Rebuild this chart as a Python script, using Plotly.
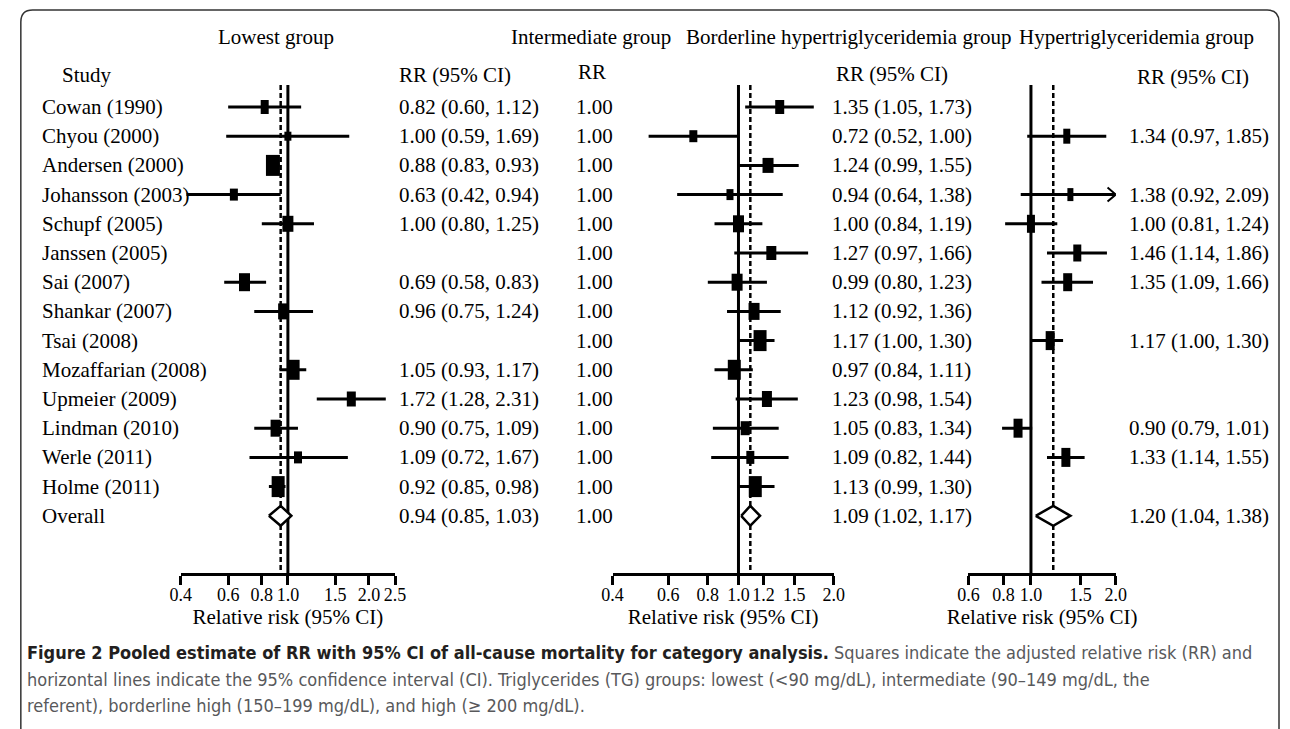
import math
import plotly.graph_objects as go

W, H = 1290, 729

# ---------------- data ----------------
studies = ["Cowan (1990)", "Chyou (2000)", "Andersen (2000)", "Johansson (2003)", "Schupf (2005)",
           "Janssen (2005)", "Sai (2007)", "Shankar (2007)", "Tsai (2008)", "Mozaffarian (2008)",
           "Upmeier (2009)", "Lindman (2010)", "Werle (2011)", "Holme (2011)"]

lowest_rr = [0.82, 1.00, 0.88, 0.63, 1.00, None, 0.69, 0.96, None, 1.05, 1.72, 0.90, 1.09, 0.92]
lowest_lo = [0.60, 0.59, 0.83, 0.42, 0.80, None, 0.58, 0.75, None, 0.93, 1.28, 0.75, 0.72, 0.85]
lowest_hi = [1.12, 1.69, 0.93, 0.94, 1.25, None, 0.83, 1.24, None, 1.17, 2.31, 1.09, 1.67, 0.98]
lowest_overall = [0.94, 0.85, 1.03]

intermediate_rr = [1.00] * 14
intermediate_overall = 1.00

border_rr = [1.35, 0.72, 1.24, 0.94, 1.00, 1.27, 0.99, 1.12, 1.17, 0.97, 1.23, 1.05, 1.09, 1.13]
border_lo = [1.05, 0.52, 0.99, 0.64, 0.84, 0.97, 0.80, 0.92, 1.00, 0.84, 0.98, 0.83, 0.82, 0.99]
border_hi = [1.73, 1.00, 1.55, 1.38, 1.19, 1.66, 1.23, 1.36, 1.30, 1.11, 1.54, 1.34, 1.44, 1.30]
border_overall = [1.09, 1.02, 1.17]

hyper_rr = [None, 1.34, None, 1.38, 1.00, 1.46, 1.35, None, 1.17, None, None, 0.90, 1.33, None]
hyper_lo = [None, 0.97, None, 0.92, 0.81, 1.14, 1.09, None, 1.00, None, None, 0.79, 1.14, None]
hyper_hi = [None, 1.85, None, 2.09, 1.24, 1.86, 1.66, None, 1.30, None, None, 1.01, 1.55, None]
hyper_overall = [1.20, 1.04, 1.38]

# study weight boxes (drawn height / width in px)
lowest_box_h = [14, 9, 21, 12, 16, None, 18, 16, None, 20, 15, 17, 12, 21]
lowest_box_w = [8, 7, 14, 8, 11, None, 11, 10, None, 12, 9, 10, 8, 13]
border_box_h = [14, 12, 15, 11, 17, 14, 17, 17, 21, 20, 16, 14, 13, 21]
border_box_w = [9, 8, 11, 7, 11, 10, 11, 11, 13, 13, 10, 9, 8, 13]
hyper_box_h = [None, 15, None, 13, 18, 17, 18, None, 19, None, None, 19, 19, None]
hyper_box_w = [None, 7, None, 6, 8, 8, 9, None, 9, None, None, 9, 9, None]

lowest_ticks = [0.4, 0.6, 0.8, 1.0, 1.5, 2.0, 2.5]
border_ticks = [0.4, 0.6, 0.8, 1.0, 1.2, 1.5, 2.0]
hyper_ticks = [0.6, 0.8, 1.0, 1.5, 2.0]

headers = ["Lowest group", "Intermediate group", "Borderline hypertriglyceridemia group",
           "Hypertriglyceridemia group"]
axis_title = "Relative risk (95% CI)"
caption_bold = "Figure 2 Pooled estimate of RR with 95% CI of all-cause mortality for category analysis."
caption_lines = [
    " Squares indicate the adjusted relative risk (RR) and",
    "horizontal lines indicate the 95% confidence interval (CI). Triglycerides (TG) groups: lowest (<90 mg/dL), intermediate (90–149 mg/dL, the",
    "referent), borderline high (150–199 mg/dL), and high (≥ 200 mg/dL).",
]

# ---------------- layout helpers ----------------
def X(px):
    return px / W

def Y(py):
    return 1 - py / H

SERIF = "Liberation Serif, Times New Roman, serif"
FS = 21
n = len(studies)
overall_row = n
row0_px, row_step = 107, 29.2
axis_px, top_px = 573, 85
y_max = (axis_px - row0_px) / row_step
y_min = (top_px - row0_px) / row_step

fig = go.Figure()

panels = [
    dict(ax="x", rr=lowest_rr, lo=lowest_lo, hi=lowest_hi, ov=lowest_overall,
         bh=lowest_box_h, bw=lowest_box_w, ticks=lowest_ticks, dom=(172.7, 390.7)),
    dict(ax="x2", rr=border_rr, lo=border_lo, hi=border_hi, ov=border_overall,
         bh=border_box_h, bw=border_box_w, ticks=border_ticks, dom=(612, 837)),
    dict(ax="x3", rr=hyper_rr, lo=hyper_lo, hi=hyper_hi, ov=hyper_overall,
         bh=hyper_box_h, bw=hyper_box_w, ticks=hyper_ticks, dom=(974, 1124)),
]

for p in panels:
    ax = p["ax"]
    xmin, xmax = min(p["ticks"]), max(p["ticks"])
    # reference line at 1 and dashed line at pooled estimate
    fig.add_trace(go.Scatter(x=[1.0, 1.0], y=[y_min, y_max], mode="lines", xaxis=ax, yaxis="y",
                             line=dict(color="black", width=3), hoverinfo="skip", showlegend=False))
    fig.add_trace(go.Scatter(x=[p["ov"][0], p["ov"][0]], y=[y_min, y_max], mode="lines", xaxis=ax, yaxis="y",
                             line=dict(color="black", width=2.5, dash="5px,3px"), hoverinfo="skip", showlegend=False))
    # CI lines
    xs, ys = [], []
    arrows_x, arrows_y = [], []
    for i in range(n):
        if p["rr"][i] is None:
            continue
        hi = min(p["hi"][i], xmax)
        xs += [max(p["lo"][i], xmin), hi, None]
        ys += [i, i, None]
        if p["hi"][i] > xmax:
            arrows_x += [xmax / 1.07, xmax, xmax / 1.07, None]
            arrows_y += [i - 0.24, i, i + 0.24, None]
    fig.add_trace(go.Scatter(x=xs, y=ys, mode="lines", xaxis=ax, yaxis="y", cliponaxis=False,
                             line=dict(color="black", width=3), hoverinfo="skip", showlegend=False))
    if arrows_x:
        fig.add_trace(go.Scatter(x=arrows_x, y=arrows_y, mode="lines", xaxis=ax, yaxis="y", cliponaxis=False,
                                 line=dict(color="black", width=2), hoverinfo="skip", showlegend=False))
    # weight boxes
    mx, my, ms, mw = [], [], [], []
    for i in range(n):
        if p["rr"][i] is None:
            continue
        mx.append(p["rr"][i]); my.append(i)
        ms.append(p["bh"][i] / 1.4); mw.append(p["bw"][i])
    fig.add_trace(go.Scatter(x=mx, y=my, mode="markers", xaxis=ax, yaxis="y", cliponaxis=False,
                             marker=dict(symbol="line-ns", size=ms, color="black", opacity=1,
                                         line=dict(color="black", width=mw)),
                             hoverinfo="skip", showlegend=False))
    # pooled diamond
    est, lo, hi = p["ov"]
    fig.add_trace(go.Scatter(x=[lo, est, hi, est, lo], y=[overall_row, overall_row - 0.34, overall_row,
                                                         overall_row + 0.34, overall_row],
                             mode="lines", fill="toself", fillcolor="white", xaxis=ax, yaxis="y",
                             cliponaxis=False, line=dict(color="black", width=2.5),
                             hoverinfo="skip", showlegend=False))

axis_common = dict(type="log", showline=True, linecolor="black", linewidth=2.7, ticks="outside",
                   ticklen=9, tickwidth=2.5, tickcolor="black", showgrid=False, zeroline=False,
                   anchor="y", tickangle=0, ticklabelstandoff=-5,
                   tickfont=dict(family=SERIF, size=18, color="black"),
                   title=dict(text=axis_title, font=dict(family=SERIF, size=FS, color="black"), standoff=1),
                   fixedrange=True)
for p in panels:
    key = "xaxis" if p["ax"] == "x" else "xaxis" + p["ax"][1:]
    t = p["ticks"]
    fig.layout[key] = dict(axis_common, domain=[X(p["dom"][0]), X(p["dom"][1])],
                           range=[math.log10(min(t)), math.log10(max(t))],
                           tickvals=t, ticktext=[f"{v:.1f}" for v in t])

fig.update_layout(
    yaxis=dict(domain=[Y(axis_px), Y(top_px)], range=[y_max, y_min], visible=False, fixedrange=True),
    width=W, height=H, margin=dict(l=0, r=0, t=0, b=0),
    paper_bgcolor="white", plot_bgcolor="white", showlegend=False,
)

ann = []
def txt(text, x_px, y, yref="y", anchor="left", size=FS, family=SERIF, color="black"):
    ann.append(dict(text=text, x=X(x_px), y=y, xref="paper", yref=yref, xanchor=anchor,
                    yanchor="middle", showarrow=False, font=dict(family=family, size=size, color=color)))

# headers
txt(headers[0], 270, Y(37), "paper", "center")
txt(headers[1], 590, Y(37), "paper", "center")
txt(headers[2], 852, Y(37), "paper", "center")
txt(headers[3], 1267, Y(37), "paper", "right")
txt("Study", 50, Y(75), "paper")
txt("RR (95% CI)", 393, Y(75), "paper")
txt("RR", 575, Y(72), "paper")
txt("RR (95% CI)", 837, Y(74), "paper")
txt("RR (95% CI)", 1143, Y(77), "paper")

def fmt(rr, lo, hi):
    return f"{rr:.2f} ({lo:.2f}, {hi:.2f})"

for i, s in enumerate(studies):
    txt(s, 29, i)
    if lowest_rr[i] is not None:
        txt(fmt(lowest_rr[i], lowest_lo[i], lowest_hi[i]), 393, i)
    txt(f"{intermediate_rr[i]:.2f}", 573, i)
    if border_rr[i] is not None:
        txt(fmt(border_rr[i], border_lo[i], border_hi[i]), 833, i)
    if hyper_rr[i] is not None:
        txt(fmt(hyper_rr[i], hyper_lo[i], hyper_hi[i]), 1135, i)
txt("Overall", 29, overall_row)
txt(fmt(*lowest_overall), 393, overall_row)
txt(f"{intermediate_overall:.2f}", 573, overall_row)
txt(fmt(*border_overall), 833, overall_row)
txt(fmt(*hyper_overall), 1135, overall_row)

# caption
CAP = "Liberation Sans Narrow, Arial Narrow, DejaVu Sans Condensed, sans-serif"
txt(f"<b><span style='color:#231f20'>{caption_bold}</span></b>{caption_lines[0]}", 14, Y(652), "paper",
    size=18, family=CAP, color="#58595b")
txt(caption_lines[1], 14, Y(679), "paper", size=18, family=CAP, color="#58595b")
txt(caption_lines[2], 14, Y(705), "paper", size=18, family=CAP, color="#58595b")

fig.update_layout(annotations=ann)

# outer rounded frame of the figure panel
frame = (f"M {X(10)},{Y(760)} L {X(10)},{Y(22)} Q {X(10)},{Y(10)} {X(22)},{Y(10)} "
         f"L {X(1278)},{Y(10)} Q {X(1290)},{Y(10)} {X(1290)},{Y(22)} L {X(1290)},{Y(760)}")
fig.add_shape(type="path", path=frame, xref="paper", yref="paper",
              line=dict(color="#333333", width=1.5), layer="below")

fig.write_html("out.html")
